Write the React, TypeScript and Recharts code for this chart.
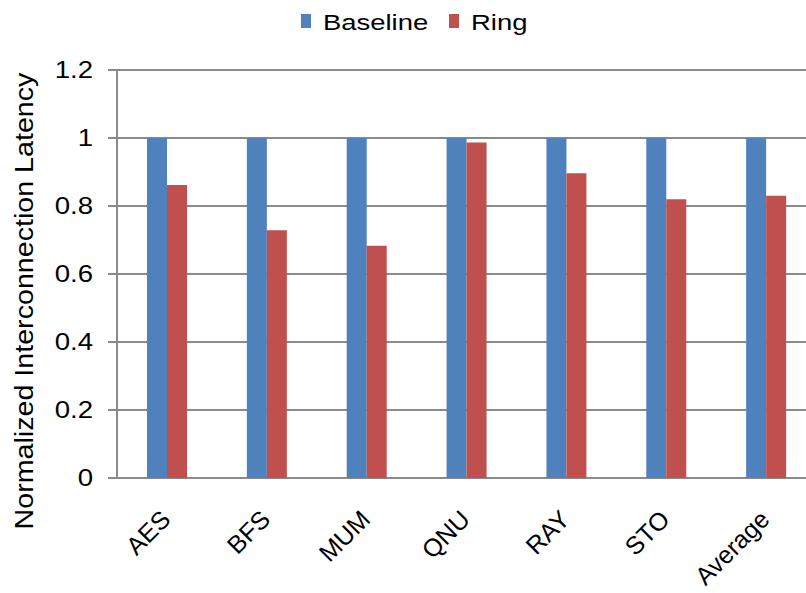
import React from 'react';
import { BarChart, Bar, XAxis, YAxis, CartesianGrid, Legend } from 'recharts';

const categories = ['AES', 'BFS', 'MUM', 'QNU', 'RAY', 'STO', 'Average'];
const baseline = [1, 1, 1, 1, 1, 1, 1];
const ring = [0.862, 0.729, 0.683, 0.987, 0.896, 0.82, 0.83];
const yTicks = [0, 0.2, 0.4, 0.6, 0.8, 1, 1.2];

const data = categories.map((name, i) => ({ name, Baseline: baseline[i], Ring: ring[i] }));

const FONT = '"Liberation Sans", Arial, sans-serif';
const GRID = '#8a8a8a';
const BLUE = '#4f81bd';
const RED = '#c0504d';

const YTick = ({ x, y, payload }: any) => (
  <text
    transform={`translate(${x - 15},${y + 8}) scale(1.2,1)`}
    textAnchor="end"
    fontSize={23}
    fontFamily={FONT}
    fill="#000"
  >
    {payload.value}
  </text>
);

const XTick = ({ x, y, payload }: any) => (
  <text
    transform={`translate(${x + 5},${y + 43}) rotate(-45)`}
    textAnchor="end"
    fontSize={25}
    fontFamily={FONT}
    fill="#000"
  >
    {payload.value}
  </text>
);

// legend is drawn in its own svg strip across the top
const LegendBox = ({ payload }: any) => {
  const items = payload || [];
  const starts = [301, 449];
  return (
    <svg width={806} height={45} style={{ display: 'block' }}>
      {items.map((p: any, i: number) => (
        <g key={p.value}>
          <rect x={starts[i]} y={14} width={10} height={14} fill={p.color} />
          <text
            transform={`translate(${starts[i] + 22},30) scale(1.22,1)`}
            fontSize={22.5}
            fontFamily={FONT}
            fill="#000"
          >
            {p.value}
          </text>
        </g>
      ))}
    </svg>
  );
};

export default function App() {
  return (
    <div
      style={{
        position: 'fixed',
        left: 0,
        top: 0,
        width: 806,
        height: 593,
        overflow: 'hidden',
        background: '#fff',
      }}
    >
      <BarChart
        width={830}
        height={593}
        data={data}
        margin={{ top: 25, right: 14, bottom: 0, left: 0 }}
        barGap={0}
        barSize={20}
      >
        <CartesianGrid vertical={false} stroke={GRID} strokeWidth={2} />
        <XAxis
          dataKey="name"
          height={115}
          axisLine={false}
          tickLine={false}
          tickSize={0}
          tickMargin={0}
          interval={0}
          tick={<XTick />}
        />
        <YAxis
          width={117}
          domain={[0, 1.2]}
          ticks={yTicks}
          axisLine={{ stroke: GRID, strokeWidth: 2 }}
          tickLine={{ stroke: GRID, strokeWidth: 2 }}
          tickSize={9}
          tickMargin={0}
          tick={<YTick />}
        />
        <Legend
          verticalAlign="top"
          content={<LegendBox />}
          wrapperStyle={{ top: 0, left: 0, width: 806, height: 45 }}
        />
        <Bar dataKey="Baseline" fill={BLUE} isAnimationActive={false} />
        <Bar dataKey="Ring" fill={RED} isAnimationActive={false} />
        <text
          transform="translate(33,301) scale(1,1.146) rotate(-90)"
          textAnchor="middle"
          fontSize={25}
          fontFamily={FONT}
          fill="#000"
        >
          Normalized Interconnection Latency
        </text>
      </BarChart>
    </div>
  );
}
